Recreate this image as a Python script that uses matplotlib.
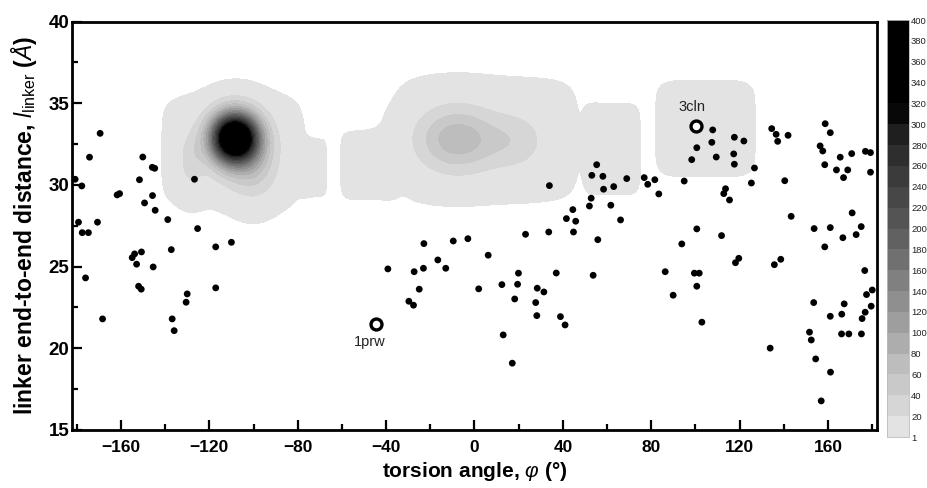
import numpy as np
import matplotlib
matplotlib.use("Agg")
import matplotlib.pyplot as plt
from matplotlib.ticker import MultipleLocator

plt.rcParams['font.family'] = ['Liberation Sans', 'DejaVu Sans']
plt.rcParams['mathtext.fontset'] = 'custom'
plt.rcParams['mathtext.rm'] = 'Liberation Sans'
plt.rcParams['mathtext.it'] = 'Liberation Sans:italic'
plt.rcParams['mathtext.bf'] = 'Liberation Sans:bold'

# scattered linker conformations (torsion angle, end-to-end distance)
phi = [-169.4, -174.2, -180.7, -177.7, -179.2, -177.5, -174.7, -170.6, -176.0, -168.3,
       -150.1, -145.8, -144.7, -151.6, -160.6, -161.7, -145.7, -149.3, -144.5, -138.8,
       -126.7, -125.3, -137.2, -150.7, -153.8, -154.9, -152.9, -145.4, -152.0, -150.8,
       -117.1, -110.0, -117.1, -130.0, -130.5, -136.8, -135.9,
       33.9, -39.2, -22.9, -27.3, -23.1, -25.0, -29.7, -27.6, -16.6, -13.0,
       -9.6, -3.0, 6.2, 1.9, 12.4, 19.9, 19.5, 18.2, 23.1, 33.6,
       28.4, 31.4, 27.7, 28.2, 37.0, 38.9, 41.0, 13.0, 17.1, 41.6,
       44.5, 45.8, 44.8,
       107.8, 107.4, 100.6, 98.3, 109.4, 117.6, 121.9, 117.3, 117.6, 126.7,
       125.3, 134.5, 136.5, 137.2, 141.9, 140.4, 143.3, 158.7, 161.0, 156.4,
       157.6, 158.5, 165.5, 170.7, 163.8, 168.9, 167.0, 176.9, 179.2, 179.2,
       55.3, 53.1, 58.1, 58.4, 63.0, 52.8, 52.0, 61.7, 66.1, 55.8,
       53.7, 68.9, 76.8, 78.4, 81.6, 83.4, 94.9, 100.6, 93.8, 111.8,
       113.6, 112.8, 115.4, 118.1, 119.6, 135.7, 138.6, 86.3, 99.5, 101.7,
       100.6, 89.9, 102.9, 133.8, 153.7, 161.0, 158.5, 170.9, 175.0, 172.7,
       166.7, 176.6, 180.0, 177.4, 179.5, 176.8, 175.4, 167.3, 166.2, 161.0,
       153.5, 151.6, 152.4, 166.1, 169.4, 175.1, 154.4, 161.1, 156.9]
dist = [33.16, 31.70, 30.35, 29.94, 27.72, 27.08, 27.08, 27.72, 24.31, 21.80,
        31.71, 31.08, 31.02, 30.32, 29.47, 29.39, 29.35, 28.90, 28.45, 27.88,
        30.35, 27.33, 26.04, 25.90, 25.78, 25.55, 25.15, 24.98, 23.80, 23.62,
        26.21, 26.49, 23.70, 23.33, 22.82, 21.80, 21.08,
        29.96, 24.86, 26.41, 24.69, 24.90, 23.62, 22.88, 22.64, 25.41, 24.90,
        26.57, 26.71, 25.70, 23.64, 23.90, 24.60, 23.92, 23.02, 26.98, 27.12,
        23.68, 23.45, 22.80, 22.00, 24.61, 21.94, 21.43, 20.82, 19.09, 27.94,
        28.49, 27.78, 27.12,
        33.37, 32.61, 32.28, 31.55, 31.71, 32.92, 32.69, 31.90, 31.27, 31.04,
        30.12, 33.45, 33.10, 32.67, 33.04, 30.26, 28.08, 33.75, 33.20, 32.39,
        32.08, 31.24, 31.70, 31.92, 30.92, 30.92, 30.45, 32.06, 31.98, 30.78,
        31.24, 30.59, 30.53, 29.74, 29.90, 29.19, 28.71, 28.76, 27.86, 26.65,
        24.47, 30.39, 30.45, 30.04, 30.32, 29.45, 30.24, 27.31, 26.39, 26.90,
        29.77, 29.47, 29.08, 25.24, 25.51, 25.12, 25.45, 24.69, 24.60, 24.60,
        23.80, 23.25, 21.60, 20.01, 27.33, 27.39, 26.21, 28.29, 27.45, 26.96,
        26.77, 24.76, 23.57, 23.29, 22.58, 22.21, 21.82, 22.72, 22.09, 21.96,
        22.80, 20.99, 20.51, 20.88, 20.88, 20.88, 19.35, 18.54, 16.78]

# crystal structures
pdb_names = ['1prw', '3cln']
pdb_phi = [-44.5, 100.3]
pdb_dist = [21.51, 33.63]

# simulated population density: peaked blobs
blob_x = [-108.5, -106.0, -100.0, -128.0, -8.0, 18.0]
blob_y = [32.9, 32.3, 30.8, 31.5, 32.8, 32.7]
blob_sx = [7.0, 9.5, 7.0, 4.0, 12.0, 10.0]
blob_sy = [1.0, 1.3, 1.2, 1.2, 1.3, 1.2]
blob_amp = [430, 60, 30, 25, 72, 28]

# low plateaus (just above 1)
plat_x = [-110.0, -73.0, -47.5, 6.5, 62.5, 104.5]
plat_y = [32.1, 31.05, 31.2, 32.75, 32.2, 33.45]
plat_hx = [31.0, 6.0, 13.0, 39.5, 12.5, 22.5]
plat_hy = [3.3, 1.75, 2.1, 3.75, 2.8, 2.95]

levels = [1] + list(range(20, 401, 20))
greys = [0.89, 0.84, 0.79, 0.74, 0.68, 0.62, 0.56, 0.50, 0.44, 0.38,
         0.33, 0.28, 0.23, 0.18, 0.12, 0.03, 0.0, 0.0, 0.0, 0.0]

gx = np.linspace(-182, 182, 729)
gy = np.linspace(15, 40, 501)
X, Y = np.meshgrid(gx, gy)
Z = np.zeros_like(X)
for cx, cy, sx, sy, a in zip(blob_x, blob_y, blob_sx, blob_sy, blob_amp):
    Z += a * np.exp(-0.5 * (((X - cx) / sx) ** 2 + ((Y - cy) / sy) ** 2))
for cx, cy, hx, hy in zip(plat_x, plat_y, plat_hx, plat_hy):
    Z += np.e * np.exp(-(np.abs((X - cx) / hx) ** 6 + np.abs((Y - cy) / hy) ** 6))
Z = np.clip(Z, 0, 399)

fig = plt.figure(figsize=(9.28, 4.88), dpi=100)
ax = fig.add_axes([0.0779, 0.1189, 0.8668, 0.8368])
cax = fig.add_axes([0.9558, 0.1045, 0.0237, 0.8545])

cs = ax.contourf(X, Y, Z, levels=levels, colors=[str(g) for g in greys], zorder=1)
ax.scatter(phi, dist, s=24, c='black', edgecolors='none', zorder=3)
ax.scatter(pdb_phi, pdb_dist, s=62, facecolors='white', edgecolors='black',
           linewidths=2.4, zorder=4)
ax.text(pdb_phi[0] - 3, pdb_dist[0] - 1.1, pdb_names[0], ha='center', va='center',
        fontsize=10.5, color='#222222', zorder=5)
ax.text(pdb_phi[1] - 2, pdb_dist[1] + 1.15, pdb_names[1], ha='center', va='center',
        fontsize=10.5, color='#222222', zorder=5)

ax.set_xlim(-182, 182)
ax.set_ylim(15, 40)
ax.set_xticks(range(-160, 161, 40))
ax.set_yticks(range(15, 41, 5))
ax.xaxis.set_minor_locator(MultipleLocator(20))
ax.yaxis.set_minor_locator(MultipleLocator(2.5))
ax.tick_params(which='both', direction='in', width=1.6, top=False, right=False)
ax.tick_params(which='major', length=7)
ax.tick_params(which='minor', length=4)
ax.tick_params(axis='x', labelsize=12.5, pad=7)
ax.tick_params(axis='y', labelsize=13.5, pad=2)
for lab in ax.get_xticklabels() + ax.get_yticklabels():
    lab.set_fontweight('bold')
for sp in ax.spines.values():
    sp.set_linewidth(2.0)

ax.set_xlabel(r'torsion angle, $\mathit{\varphi}$ (°)', fontsize=15,
              fontweight='bold', va='top')
ax.xaxis.set_label_coords(0.5, -0.074)
ax.set_ylabel(r'linker end-to-end distance, $\mathit{l}_{\mathrm{linker}}$ ($\mathit{\AA}$)',
              fontsize=16.5, fontweight='bold')
ax.yaxis.set_label_coords(-0.041, 0.5)

cb = fig.colorbar(cs, cax=cax, ticks=levels)
cb.outline.set_edgecolor('#bbbbbb')
cb.outline.set_linewidth(0.6)
cax.tick_params(length=0, labelsize=6.8, pad=1.5, colors='#222222')

fig.savefig('out.png', dpi=100)
